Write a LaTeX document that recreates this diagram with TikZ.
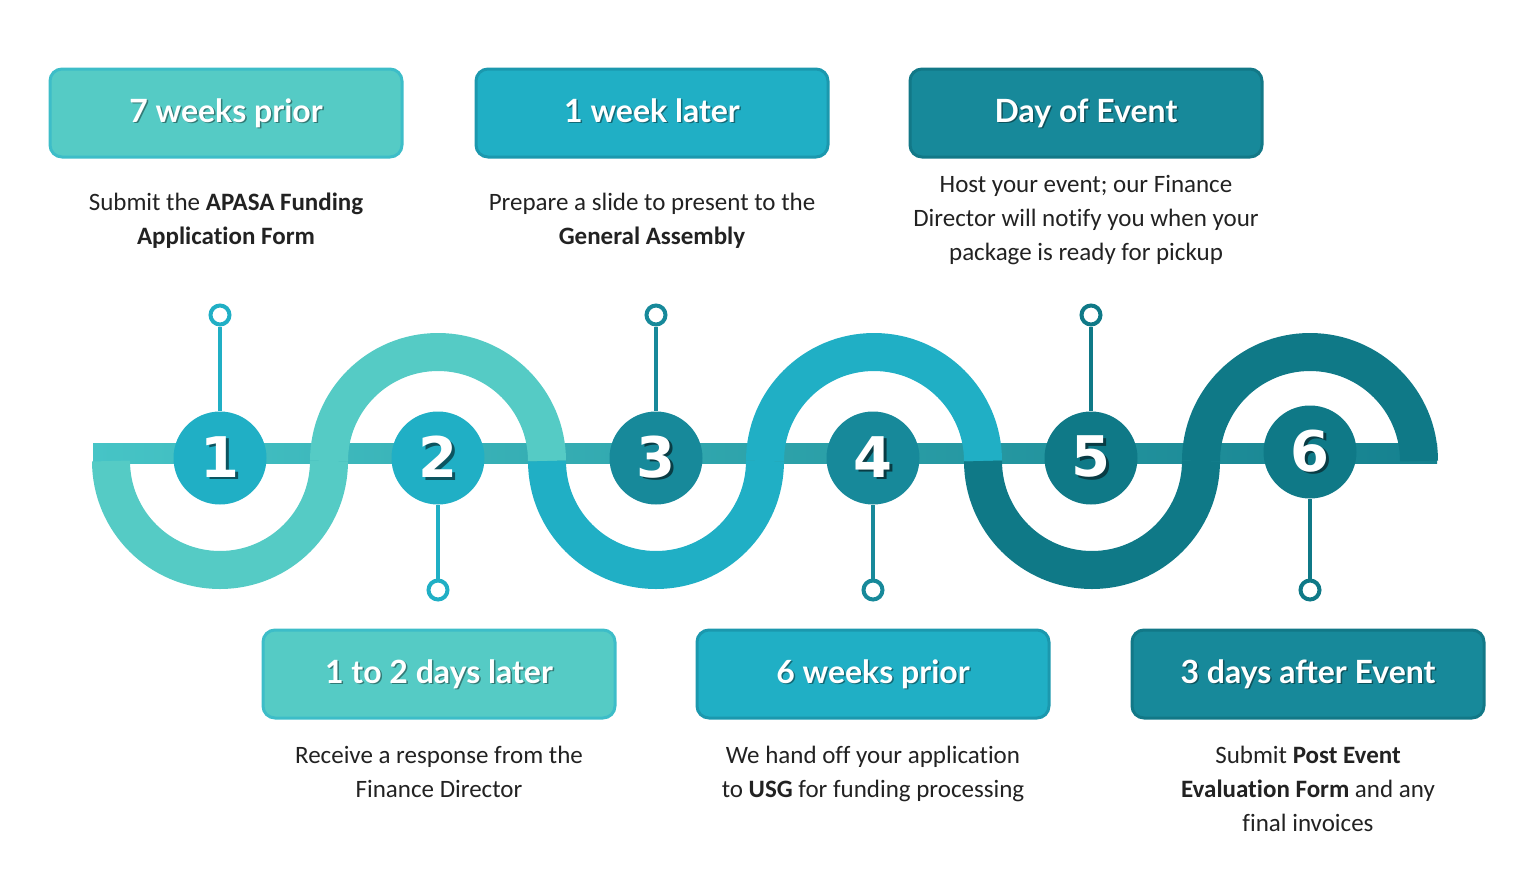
\documentclass[tikz,border=0pt]{standalone}
\usepackage{fontspec}
\setmainfont{Carlito}[Ligatures=NoCommon]
\newfontfamily\titlefont{Lato}
\newfontfamily\numfont{DejaVu Sans}
\usetikzlibrary{positioning}

\definecolor{tealA}{HTML}{55CBC5}
\definecolor{tealB}{HTML}{20AFC5}
\definecolor{tealC}{HTML}{17899A}
\definecolor{tealD}{HTML}{0F7987}
\definecolor{edgeA}{HTML}{3DBDC8}
\definecolor{edgeB}{HTML}{1B98AE}
\definecolor{edgeC}{HTML}{127887}
\definecolor{barL}{HTML}{46C4C6}
\definecolor{barM}{HTML}{2AB2C4}
\definecolor{barR}{HTML}{15818F}
\definecolor{notegrey}{HTML}{222222}

% white text with a small drop shadow
\newcommand{\dropshade}[3][1.5pt]{\leavevmode\rlap{\kern#1\raisebox{-#1}{\color{#2}#3}}#3}

\tikzset{
  stage/.style={rounded corners=12pt, minimum width=352pt, minimum height=88pt,
    line width=3pt, text=white, text height=24pt, text depth=6pt,
    font=\titlefont\bfseries\fontsize{32}{36}\selectfont},
  note/.style={align=center, inner sep=0pt, text=notegrey,
    font=\fontsize{25}{34}\selectfont},
  badge/.style={circle, minimum size=93pt, inner sep=0pt, text=white,
    font=\numfont\bfseries\fontsize{56}{60}\selectfont},
  knob/.style={circle, draw, fill=white, line width=4pt, minimum size=19pt, inner sep=0pt},
  stem/.style={line width=4pt},
  wave/.style={line width=38pt},
}

\begin{document}
\begin{tikzpicture}[x=1pt,y=-1pt]
\useasboundingbox (0,0) rectangle (1519,871);

% track
\shade[left color=barL, middle color=barM, right color=barR] (93,443) rectangle (1437,463);

% wave: lower and upper halves
\draw[wave, tealA] (111,461) arc[start angle=180, end angle=0, radius=109];
\draw[wave, tealA] (329,461) arc[start angle=180, end angle=360, radius=109];
\draw[wave, tealB] (547,461) arc[start angle=180, end angle=0, radius=109];
\draw[wave, tealB] (765,461) arc[start angle=180, end angle=360, radius=109];
\draw[wave, tealD] (983,461) arc[start angle=180, end angle=0, radius=109];
\draw[wave, tealD] (1201,461) arc[start angle=180, end angle=360, radius=109];

% numbered badges
\node[badge, fill=tealB] (c1) at (220,458) {\dropshade[2.5pt]{edgeC!70!black}{1}};
\node[badge, fill=tealB] (c2) at (438,458) {\dropshade[2.5pt]{edgeC!70!black}{2}};
\node[badge, fill=tealC] (c3) at (656,458) {\dropshade[2.5pt]{edgeC!50!black}{3}};
\node[badge, fill=tealC] (c4) at (873,458) {\dropshade[2.5pt]{edgeC!50!black}{4}};
\node[badge, fill=tealD] (c5) at (1091,458) {\dropshade[2.5pt]{edgeC!50!black}{5}};
\node[badge, fill=tealD] (c6) at (1310,452) {\dropshade[2.5pt]{edgeC!50!black}{6}};

% pins
\node[knob, draw=tealB] (k1) at (220,315) {};
\node[knob, draw=tealB] (k2) at (438,590) {};
\node[knob, draw=tealC] (k3) at (656,315) {};
\node[knob, draw=tealC] (k4) at (873,590) {};
\node[knob, draw=tealD] (k5) at (1091,315) {};
\node[knob, draw=tealD] (k6) at (1310,590) {};
\draw[stem, tealB] (k1) -- (c1);
\draw[stem, tealB] (k2) -- (c2);
\draw[stem, tealC] (k3) -- (c3);
\draw[stem, tealC] (k4) -- (c4);
\draw[stem, tealD] (k5) -- (c5);
\draw[stem, tealD] (k6) -- (c6);

% stage boxes
\node[stage, fill=tealA, draw=edgeA] (s1) at (226,113) {\dropshade{tealA!60!black}{7 weeks prior}};
\node[stage, fill=tealB, draw=edgeB] (s2) at (652,113) {\dropshade{tealB!60!black}{1 week later}};
\node[stage, fill=tealC, draw=edgeC] (s3) at (1086,113) {\dropshade{tealC!60!black}{Day of Event}};
\node[stage, fill=tealA, draw=edgeA] (s4) at (439,674) {\dropshade{tealA!60!black}{1 to 2 days later}};
\node[stage, fill=tealB, draw=edgeB] (s5) at (873,674) {\dropshade{tealB!60!black}{6 weeks prior}};
\node[stage, fill=tealC, draw=edgeC] (s6) at (1308,674) {\dropshade{tealC!60!black}{3 days after Event}};

% notes
\node[note, below=34pt of s1] (n1) {Submit the \textbf{APASA Funding}\\\textbf{Application Form}};
\node[note, below=34pt of s2] (n2) {Prepare a slide to present to the\\\textbf{General Assembly}};
\node[note, below=17pt of s3] (n3) {Host your event; our Finance\\Director will notify you when your\\package is ready for pickup};
\node[note, below=26pt of s4] (n4) {Receive a response from the\\Finance Director};
\node[note, below=26pt of s5] (n5) {We hand off your application\\to \textbf{USG} for funding processing};
\node[note, below=26pt of s6] (n6) {Submit \textbf{Post Event}\\\textbf{Evaluation Form} and any\\final invoices};
\end{tikzpicture}
\end{document}
